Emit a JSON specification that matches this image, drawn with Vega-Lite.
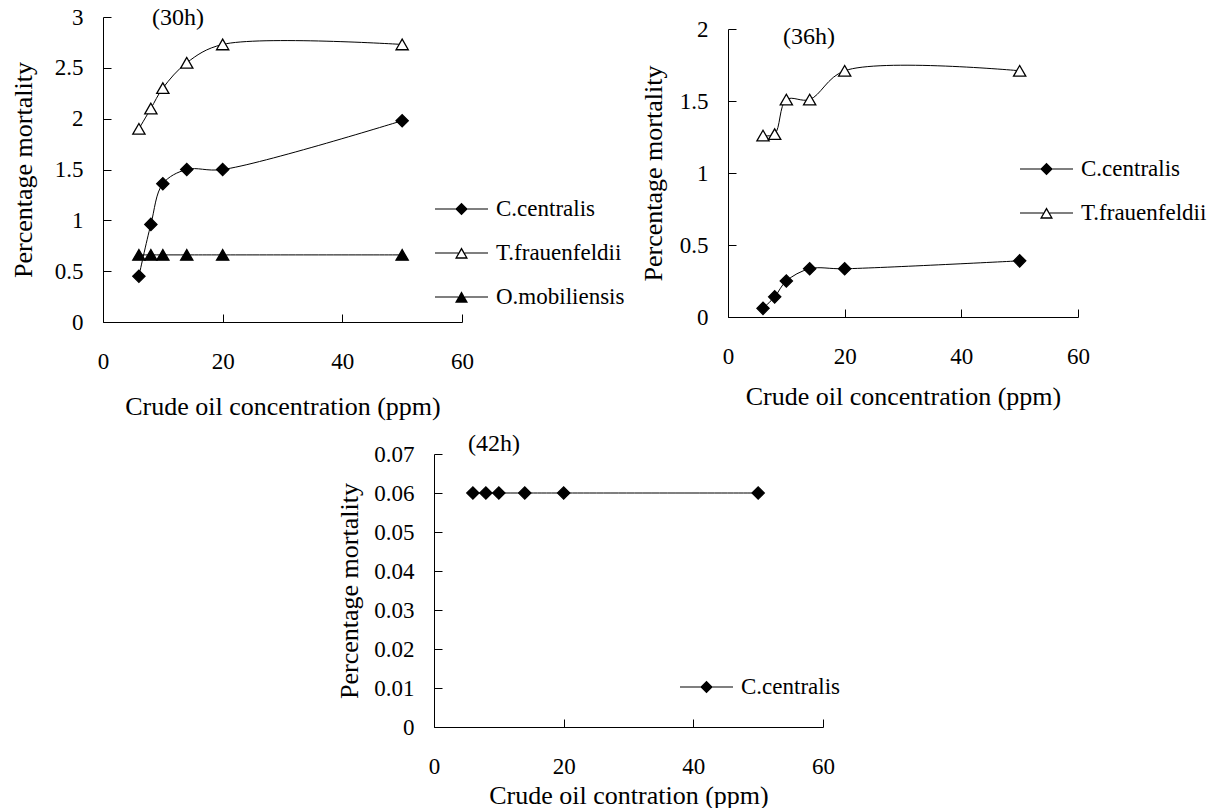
{
  "$schema": "https://vega.github.io/schema/vega-lite/v6.json",
  "padding": {"left": 10, "top": 6, "right": 0, "bottom": 0},
  "background": "white",
  "config": {
    "view": {"stroke": null},
    "axis": {
      "domainColor": "black", "tickColor": "black", "labelColor": "black", "titleColor": "black",
      "labelFont": "Liberation Serif", "titleFont": "Liberation Serif",
      "labelFontSize": 23, "titleFontSize": 26, "titleFontWeight": "normal",
      "grid": false, "tickSize": -8, "labelFlush": false, "labelOverlap": false,
      "domainWidth": 1, "tickWidth": 1, "titleBaseline": "middle"
    },
    "axisX": {"labelPadding": 36},
    "axisY": {"labelPadding": 28},
    "legend": {
      "labelFont": "Liberation Serif", "labelFontSize": 23, "labelColor": "black",
      "symbolSize": 100, "symbolStrokeWidth": 0, "symbolOpacity": 1, "symbolFillColor": "black",
      "symbolOffset": 15, "labelOffset": 23, "rowPadding": 20, "padding": 0, "title": null
    },
    "title": {
      "font": "Liberation Serif", "fontSize": 24, "fontWeight": "normal", "color": "black",
      "anchor": "start", "frame": "group", "offset": 0, "baseline": "middle"
    }
  },
  "datasets": {
    "p30": [
      {"series": "C.centralis", "x": 6, "y": 0.45},
      {"series": "C.centralis", "x": 8, "y": 0.96},
      {"series": "C.centralis", "x": 10, "y": 1.36},
      {"series": "C.centralis", "x": 14, "y": 1.5},
      {"series": "C.centralis", "x": 20, "y": 1.5},
      {"series": "C.centralis", "x": 50, "y": 1.98},
      {"series": "T.frauenfeldii", "x": 6, "y": 1.9},
      {"series": "T.frauenfeldii", "x": 8, "y": 2.1},
      {"series": "T.frauenfeldii", "x": 10, "y": 2.3},
      {"series": "T.frauenfeldii", "x": 14, "y": 2.55},
      {"series": "T.frauenfeldii", "x": 20, "y": 2.73},
      {"series": "T.frauenfeldii", "x": 50, "y": 2.73},
      {"series": "O.mobiliensis", "x": 6, "y": 0.66},
      {"series": "O.mobiliensis", "x": 8, "y": 0.66},
      {"series": "O.mobiliensis", "x": 10, "y": 0.66},
      {"series": "O.mobiliensis", "x": 14, "y": 0.66},
      {"series": "O.mobiliensis", "x": 20, "y": 0.66},
      {"series": "O.mobiliensis", "x": 50, "y": 0.66}
    ],
    "p36": [
      {"series": "C.centralis", "x": 6, "y": 0.06},
      {"series": "C.centralis", "x": 8, "y": 0.14},
      {"series": "C.centralis", "x": 10, "y": 0.25},
      {"series": "C.centralis", "x": 14, "y": 0.335},
      {"series": "C.centralis", "x": 20, "y": 0.335},
      {"series": "C.centralis", "x": 50, "y": 0.39},
      {"series": "T.frauenfeldii", "x": 6, "y": 1.26},
      {"series": "T.frauenfeldii", "x": 8, "y": 1.27},
      {"series": "T.frauenfeldii", "x": 10, "y": 1.51},
      {"series": "T.frauenfeldii", "x": 14, "y": 1.51},
      {"series": "T.frauenfeldii", "x": 20, "y": 1.71},
      {"series": "T.frauenfeldii", "x": 50, "y": 1.71}
    ],
    "p42": [
      {"series": "C.centralis", "x": 6, "y": 0.06},
      {"series": "C.centralis", "x": 8, "y": 0.06},
      {"series": "C.centralis", "x": 10, "y": 0.06},
      {"series": "C.centralis", "x": 14, "y": 0.06},
      {"series": "C.centralis", "x": 20, "y": 0.06},
      {"series": "C.centralis", "x": 50, "y": 0.06}
    ]
  },
  "vconcat": [
    {
      "hconcat": [
        {
          "width": 359, "height": 305,
          "data": {"name": "p30"},
          "title": {"text": "(30h)", "dx": 49, "dy": 28},
          "encoding": {
            "x": {"field": "x", "type": "quantitative", "scale": {"domain": [0, 60]},
                  "axis": {"values": [0, 20, 40, 60], "title": "Crude oil concentration (ppm)", "titleY": 84, "format": "~f"}},
            "y": {"field": "y", "type": "quantitative", "scale": {"domain": [0, 3]},
                  "axis": {"values": [0, 0.5, 1, 1.5, 2, 2.5, 3], "title": "Percentage mortality", "titleX": -80, "format": "~f"}}
          },
          "layer": [
            {"mark": {"type": "line", "interpolate": "catmull-rom", "color": "black", "strokeWidth": 1},
             "encoding": {"detail": {"field": "series"}}},
            {"mark": {"type": "point", "opacity": 1, "stroke": "black", "strokeWidth": 1.3, "size": 150},
             "encoding": {
               "shape": {"field": "series", "type": "nominal",
                         "scale": {"domain": ["C.centralis", "T.frauenfeldii", "O.mobiliensis"], "range": ["diamond", "triangle-up", "triangle-up"]},
                         "legend": null},
               "fill": {"field": "series", "type": "nominal",
                        "scale": {"domain": ["C.centralis", "T.frauenfeldii", "O.mobiliensis"], "range": ["black", "white", "black"]},
                        "legend": null}
             }},
            {"mark": {"type": "point", "filled": true, "color": "black", "opacity": 0, "size": 100},
             "encoding": {
               "shape": {"field": "series", "type": "nominal",
                         "scale": {"domain": ["C.centralis", "T.frauenfeldii", "O.mobiliensis"],
                                   "range": ["M-5.3,-0.12H-1.2V0.12H-5.3ZM1.2,-0.12H5.3V0.12H1.2ZM-1.25,0L0,-1.25L1.25,0L0,1.25Z",
                                             "M-5.3,-0.12H-0.65V0.12H-5.3ZM0.65,-0.12H5.3V0.12H0.65ZM0,-1.13L1.3,1.13L-1.3,1.13ZM0,-0.608L-0.85,0.87L0.85,0.87Z",
                                             "M-5.3,-0.12H-0.65V0.12H-5.3ZM0.65,-0.12H5.3V0.12H0.65ZM0,-1.13L1.3,1.13L-1.3,1.13Z"]},
                         "legend": {"orient": "none", "legendX": 332, "legendY": 180.5, "symbolOpacity": 1}}
             }}
          ],
          "resolve": {"scale": {"shape": "independent"}}
        },
        {
          "width": 350, "height": 300,
          "data": {"name": "p36"},
          "title": {"text": "(36h)", "dx": 55, "dy": 36},
          "encoding": {
            "x": {"field": "x", "type": "quantitative", "scale": {"domain": [0, 60]},
                  "axis": {"values": [0, 20, 40, 60], "title": "Crude oil concentration (ppm)", "titleY": 79, "format": "~f"}},
            "y": {"field": "y", "type": "quantitative", "scale": {"domain": [0, 2], "range": [300, 12]},
                  "axis": {"values": [0, 0.5, 1, 1.5, 2], "title": "Percentage mortality", "titleX": -75, "format": "~f"}}
          },
          "layer": [
            {"mark": {"type": "line", "interpolate": "catmull-rom", "color": "black", "strokeWidth": 1},
             "encoding": {"detail": {"field": "series"}}},
            {"mark": {"type": "point", "opacity": 1, "stroke": "black", "strokeWidth": 1.3, "size": 150},
             "encoding": {
               "shape": {"field": "series", "type": "nominal",
                         "scale": {"domain": ["C.centralis", "T.frauenfeldii"], "range": ["diamond", "triangle-up"]},
                         "legend": null},
               "fill": {"field": "series", "type": "nominal",
                        "scale": {"domain": ["C.centralis", "T.frauenfeldii"], "range": ["black", "white"]},
                        "legend": null}
             }},
            {"mark": {"type": "point", "filled": true, "color": "black", "opacity": 0, "size": 100},
             "encoding": {
               "shape": {"field": "series", "type": "nominal",
                         "scale": {"domain": ["C.centralis", "T.frauenfeldii"],
                                   "range": ["M-5.3,-0.12H-1.2V0.12H-5.3ZM1.2,-0.12H5.3V0.12H1.2ZM-1.25,0L0,-1.25L1.25,0L0,1.25Z",
                                             "M-5.3,-0.12H-0.65V0.12H-5.3ZM0.65,-0.12H5.3V0.12H0.65ZM0,-1.13L1.3,1.13L-1.3,1.13ZM0,-0.608L-0.85,0.87L0.85,0.87Z"]},
                         "legend": {"orient": "none", "legendX": 292, "legendY": 140.5, "symbolOpacity": 1}}
             }}
          ],
          "resolve": {"scale": {"shape": "independent"}}
        }
      ],
      "spacing": 266,
      "bounds": "flush",
      "resolve": {"scale": {"shape": "independent", "fill": "independent"}, "legend": {"shape": "independent", "fill": "independent"}}
    },
    {
      "width": 720, "height": 273,
      "data": {"name": "p42"},
      "title": {"text": "(42h)", "dx": 365, "dy": 17},
      "encoding": {
        "x": {"field": "x", "type": "quantitative", "scale": {"domain": [0, 60], "range": [331, 720]},
              "axis": {"values": [0, 20, 40, 60], "title": "Crude oil contration (ppm)", "titleY": 68, "format": "~f"}},
        "y": {"field": "y", "type": "quantitative", "scale": {"domain": [0, 0.07]},
              "axis": {"values": [0, 0.01, 0.02, 0.03, 0.04, 0.05, 0.06, 0.07], "title": "Percentage mortality", "titleX": -85, "offset": -331, "format": "~f"}}
      },
      "layer": [
        {"mark": {"type": "line", "interpolate": "catmull-rom", "color": "black", "strokeWidth": 1},
         "encoding": {"detail": {"field": "series"}}},
        {"mark": {"type": "point", "opacity": 1, "stroke": "black", "strokeWidth": 1.3, "size": 150},
         "encoding": {
           "shape": {"field": "series", "type": "nominal",
                     "scale": {"domain": ["C.centralis"], "range": ["diamond"]},
                     "legend": null},
           "fill": {"field": "series", "type": "nominal",
                    "scale": {"domain": ["C.centralis"], "range": ["black"]},
                    "legend": null}
         }},
        {"mark": {"type": "point", "filled": true, "color": "black", "opacity": 0, "size": 100},
         "encoding": {
           "shape": {"field": "series", "type": "nominal",
                     "scale": {"domain": ["C.centralis"],
                               "range": ["M-5.3,-0.12H-1.2V0.12H-5.3ZM1.2,-0.12H5.3V0.12H1.2ZM-1.25,0L0,-1.25L1.25,0L0,1.25Z"]},
                     "legend": {"orient": "none", "legendX": 577, "legendY": 221.5, "symbolOpacity": 1}}
         }}
      ],
      "resolve": {"scale": {"shape": "independent"}}
    }
  ],
  "spacing": 437,
  "bounds": "flush",
  "resolve": {"scale": {"shape": "independent", "fill": "independent"}, "legend": {"shape": "independent", "fill": "independent"}}
}
